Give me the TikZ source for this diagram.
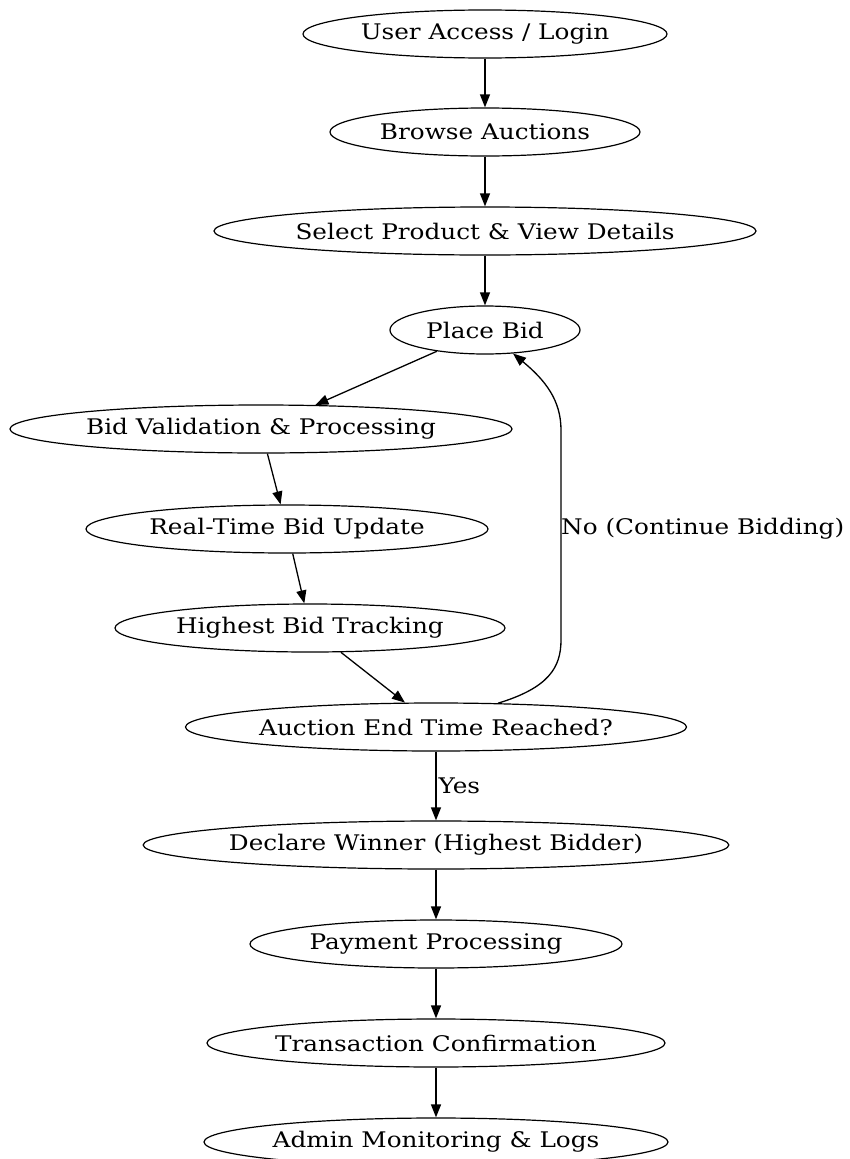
\documentclass[tikz,border=0pt]{standalone}
\usepackage{fontspec}
\setmainfont[FakeStretch=1.15]{DejaVu Serif}
\usepackage{tikz}
\usetikzlibrary{arrows.meta,positioning,shapes.geometric}

\begin{document}
\begin{tikzpicture}[
  x=1pt,
  y=1pt,
  state/.style={ellipse, draw, line width=1.2pt, inner sep=0pt, minimum height=48pt, font=\fontsize{21.5}{25}\selectfont},
  flow/.style={draw, line width=1.3pt, -{Triangle[length=13pt,width=10pt]}},
  edgelabel/.style={font=\fontsize{21.5}{25}\selectfont, anchor=west, inner sep=0pt}
]
\useasboundingbox (0,0) rectangle (849,-1159);
% main column
\node[state, minimum width=364pt] (login) at (485,-34) {User Access / Login};
\node[state, minimum width=310pt] (browse) at (485,-132) {Browse Auctions};
\node[state, minimum width=542pt] (select) at (485,-231) {Select Product \& View Details};
\node[state, minimum width=190pt] (bid) at (485,-330) {Place Bid};
\node[state, minimum width=502pt] (valid) at (261,-429) {Bid Validation \& Processing};
\node[state, minimum width=402pt] (update) at (287,-529) {Real-Time Bid Update};
\node[state, minimum width=390pt] (track) at (310,-628) {Highest Bid Tracking};
\node[state, minimum width=501pt] (endq) at (436,-727) {Auction End Time Reached?};
\node[state, minimum width=581pt] (winner) at (436,-845) {Declare Winner (Highest Bidder)};
\node[state, minimum width=372pt] (pay) at (436,-944) {Payment Processing};
\node[state, minimum width=458pt] (confirm) at (436,-1043) {Transaction Confirmation};
\node[state, minimum width=464pt] (admin) at (436,-1142) {Admin Monitoring \& Logs};

\draw[flow] (login) -- (browse);
\draw[flow] (browse) -- (select);
\draw[flow] (select) -- (bid);
\draw[flow] (bid) -- (valid);
\draw[flow] (valid) -- (update);
\draw[flow] (update) -- (track);
\draw[flow] (track) -- (endq);
\draw[flow] (endq) -- node[edgelabel, pos=0.5, xshift=2pt] (yes) {Yes} (winner);
\draw[flow] (winner) -- (pay);
\draw[flow] (pay) -- (confirm);
\draw[flow] (confirm) -- (admin);

% loop back while the auction is open
\draw[flow] (endq.21) .. controls (548,-688) and (561,-668) .. (561,-640)
  -- (561,-430) .. controls (561,-400) and (545,-380) .. (bid.-40);
\node[edgelabel] (again) at (561,-529) {No (Continue Bidding)};
\end{tikzpicture}
\end{document}
